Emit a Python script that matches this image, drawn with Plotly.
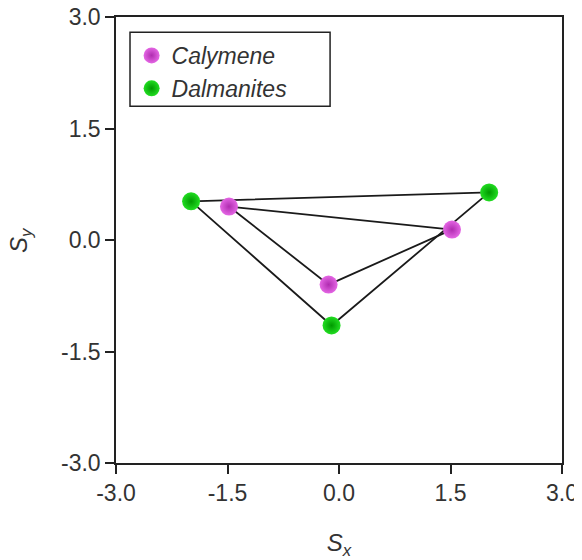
import plotly.graph_objects as go

# Data
cal_x = [-1.48, 1.52, -0.14]
cal_y = [0.45, 0.14, -0.60]
dal_x = [-1.99, 2.02, -0.10]
dal_y = [0.52, 0.64, -1.15]
tick_vals = [-3.0, -1.5, 0.0, 1.5, 3.0]
tick_text = ["-3.0", "-1.5", "0.0", "1.5", "3.0"]

fig = go.Figure()

for xs, ys in [(cal_x, cal_y), (dal_x, dal_y)]:
    fig.add_trace(go.Scatter(
        x=xs + xs[:1], y=ys + ys[:1], mode="lines",
        line=dict(color="#1a1a1a", width=1.8),
        showlegend=False, hoverinfo="skip"))

fig.add_trace(go.Scatter(
    x=cal_x, y=cal_y, mode="markers", name="<i>Calymene</i>",
    marker=dict(size=18, color="#e466e4",
                gradient=dict(type="radial", color="#b02cb0"),
                line=dict(width=0))))
fig.add_trace(go.Scatter(
    x=dal_x, y=dal_y, mode="markers", name="<i>Dalmanites</i>",
    marker=dict(size=18, color="#22dd22",
                gradient=dict(type="radial", color="#009a00"),
                line=dict(width=0))))

axis_common = dict(
    range=[-3, 3], tickvals=tick_vals, ticktext=tick_text,
    showgrid=False, zeroline=False, showline=True, linecolor="#222222",
    linewidth=1.5, mirror=True, ticks="outside", ticklen=9,
    tickwidth=1.5, tickcolor="#222222", automargin=False,
    ticklabeloverflow="allow",
    tickfont=dict(family="Liberation Sans, Arial", size=23, color="#333333"),
)

title_font = dict(family="Liberation Sans, Arial", size=24, color="#333333")

# The page body has an 8px margin, so the figure is sized/offset to compensate
fig.update_layout(
    width=574, height=552,
    margin=dict(l=108, r=20, t=9, b=97),
    paper_bgcolor="white", plot_bgcolor="white",
    xaxis=dict(**axis_common,
               title=dict(text="<i>S<sub>x</sub></i>", standoff=31, font=title_font)),
    yaxis=dict(**axis_common),
    annotations=[dict(text="<i>S<sub>y</sub></i>", xref="paper", yref="paper",
                      x=-0.215, y=0.5, xanchor="center", yanchor="middle",
                      textangle=-90, showarrow=False, font=title_font)],
    legend=dict(x=0.035, y=0.962, xanchor="left", yanchor="top",
                borderwidth=0, bgcolor="rgba(0,0,0,0)",
                font=dict(family="Liberation Sans, Arial", size=23, color="#333333"),
                itemsizing="trace", tracegroupgap=0),
    shapes=[dict(type="rect", xref="paper", yref="paper",
                 x0=0.0314, x1=0.48, y0=0.800, y1=0.966,
                 line=dict(color="#222222", width=1.5), fillcolor="rgba(0,0,0,0)",
                 layer="above")],
    showlegend=True,
)

fig.write_html("out.html")
